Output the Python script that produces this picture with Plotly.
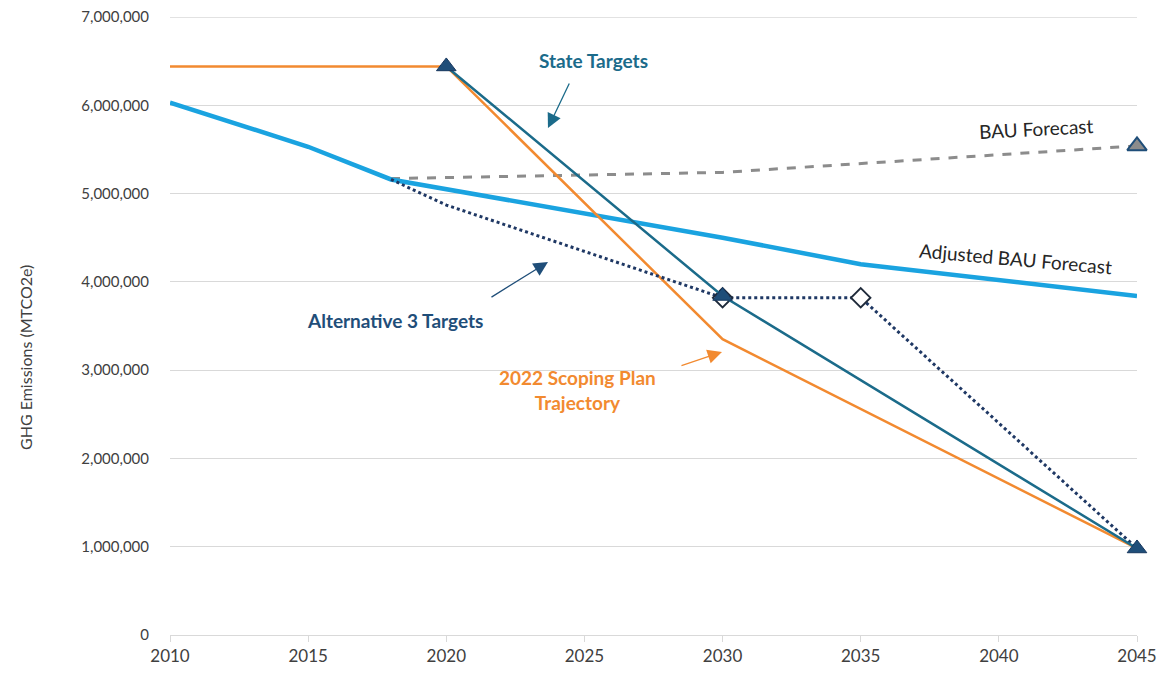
import plotly.graph_objects as go

years_adj = [2010, 2015, 2018, 2020, 2025, 2030, 2035, 2040, 2045]
adj_bau = [6030000, 5530000, 5160000, 5050000, 4780000, 4500000, 4200000, 4020000, 3840000]

years_bau = [2018, 2020, 2025, 2030, 2035, 2040, 2045]
bau = [5170000, 5180000, 5210000, 5240000, 5340000, 5440000, 5540000]

years_state = [2020, 2030, 2045]
state = [6440000, 3840000, 980000]

years_scoping = [2010, 2020, 2030, 2045]
scoping = [6440000, 6440000, 3350000, 980000]

years_alt3 = [2018, 2020, 2030, 2035, 2045]
alt3 = [5160000, 4870000, 3820000, 3820000, 980000]
alt3_marker_years = [2030, 2035]
alt3_marker_vals = [3820000, 3820000]

x_ticks = [2010, 2015, 2020, 2025, 2030, 2035, 2040, 2045]
y_ticks = [0, 1000000, 2000000, 3000000, 4000000, 5000000, 6000000, 7000000]

FONT = "Lato"

fig = go.Figure()
fig.add_trace(go.Scatter(x=years_bau, y=bau, mode="lines",
                         line=dict(color="#8C8C8C", width=3, dash="dash"), showlegend=False))
fig.add_trace(go.Scatter(x=[years_bau[-1]], y=[bau[-1]], mode="markers", cliponaxis=False,
                         marker=dict(symbol="triangle-up", size=17, color="#8C8C8C",
                                     line=dict(color="#1F4E79", width=2)), showlegend=False))
fig.add_trace(go.Scatter(x=years_adj, y=adj_bau, mode="lines",
                         line=dict(color="#1AA3E0", width=4.5), showlegend=False))
fig.add_trace(go.Scatter(x=years_scoping, y=scoping, mode="lines",
                         line=dict(color="#F28A30", width=2.5), showlegend=False))
fig.add_trace(go.Scatter(x=years_alt3, y=alt3, mode="lines",
                         line=dict(color="#1F3864", width=3, dash="dot"), showlegend=False))
fig.add_trace(go.Scatter(x=alt3_marker_years, y=alt3_marker_vals, mode="markers", cliponaxis=False,
                         marker=dict(symbol="diamond", size=15, color="white",
                                     line=dict(color="#1F2A3A", width=1.8)), showlegend=False))
fig.add_trace(go.Scatter(x=years_state, y=state, mode="lines+markers", cliponaxis=False,
                         line=dict(color="#1B6B8A", width=2.5),
                         marker=dict(symbol="triangle-up", size=17, color="#1F4E79",
                                     line=dict(color="#17375E", width=1)), showlegend=False))

def px2x(px):
    return 2010 + (px - 170) / 27.63

def py2y(py):
    return (635 - py) / 88.29 * 1e6

annos = [
    dict(x=px2x(594), y=py2y(60), text="<b>State Targets</b>", color="#1B6B8A", angle=0),
    dict(x=px2x(1036), y=py2y(128), text="BAU Forecast", color="#262626", angle=-3),
    dict(x=px2x(1016), y=py2y(258), text="Adjusted BAU Forecast", color="#262626", angle=5),
    dict(x=px2x(395), y=py2y(320), text="<b>Alternative 3 Targets</b>", color="#1F4E79", angle=0),
    dict(x=px2x(578), y=py2y(390), text="<b>2022 Scoping Plan<br>Trajectory</b>", color="#F28A30", angle=0),
]
for a in annos:
    fig.add_annotation(x=a["x"], y=a["y"], text=a["text"], showarrow=False,
                       textangle=a["angle"], font=dict(family=FONT, size=19, color=a["color"]))

arrows = [
    ((548, 128), (570, 82), "#1B6B8A"),
    ((548, 262), (490, 298), "#1F4E79"),
    ((722, 352), (680, 366), "#F28A30"),
]
for (hx, hy), (tx, ty), c in arrows:
    fig.add_annotation(x=px2x(hx), y=py2y(hy), ax=px2x(tx), ay=py2y(ty),
                       axref="x", ayref="y", xref="x", yref="y", text="",
                       showarrow=True, arrowhead=2, arrowsize=2.2, arrowwidth=1.3, arrowcolor=c)

# y-axis title as annotation
fig.add_annotation(xref="paper", yref="paper", x=(25 - 170) / 967, y=(635 - 358) / 618,
                   xanchor="center", yanchor="middle",
                   text="GHG Emissions (MTCO2e)", textangle=-90, showarrow=False,
                   font=dict(family=FONT, size=16, color="#404040"))

# top gridline (at the upper edge of the range)
fig.add_shape(type="line", xref="paper", yref="y", x0=0, x1=1, y0=y_ticks[-1], y1=y_ticks[-1],
              line=dict(color="#D9D9D9", width=1.5), layer="below")

fig.update_layout(
    width=1150, height=658,
    margin=dict(l=162, r=21, t=9, b=31, autoexpand=False),
    paper_bgcolor="white", plot_bgcolor="white",
    font=dict(family=FONT, size=14, color="#595959"),
    showlegend=False,
)
fig.update_xaxes(range=[2010, 2045], tickvals=x_ticks, automargin=False, ticklabeloverflow="allow",
                 showgrid=False, showline=True, linecolor="#D9D9D9", linewidth=1,
                 ticks="outside", tickcolor="#D9D9D9", ticklen=6, zeroline=False,
                 tickfont=dict(size=17, color="#404040"))
fig.update_yaxes(range=[0, 7000000], tickvals=y_ticks, automargin=False, ticklabeloverflow="allow",
                 tickformat=",d", showgrid=True, gridcolor="#D9D9D9", gridwidth=1,
                 zeroline=False, showline=False, ticks="", ticklabelstandoff=20,
                 tickfont=dict(size=15, color="#404040"))

fig.write_html("out.html")
